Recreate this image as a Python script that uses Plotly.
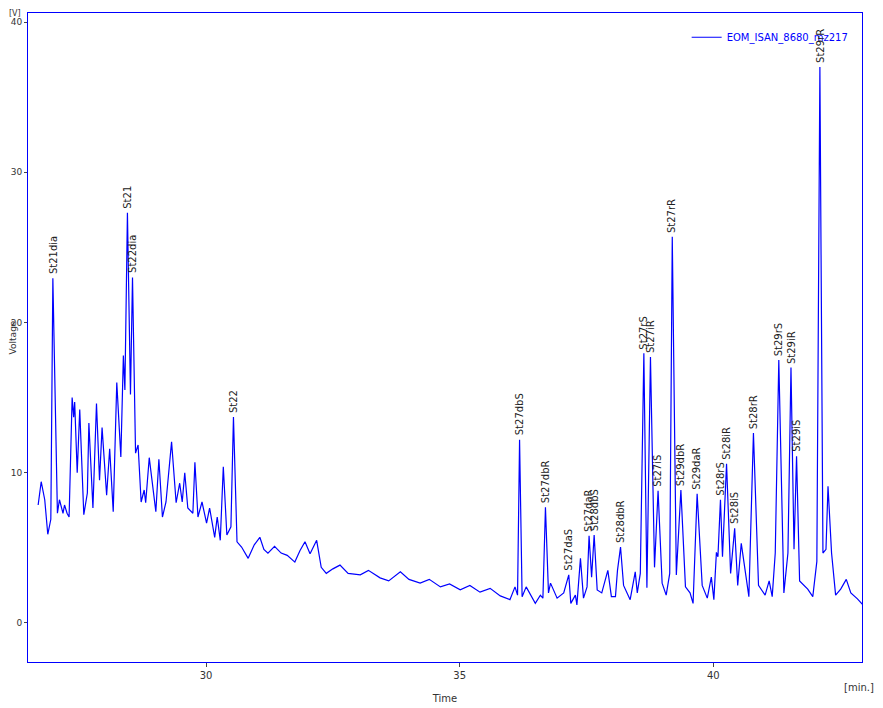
import plotly.graph_objects as go

# retention time [min] and detector voltage [V]
time = [26.69, 26.75, 26.82, 26.88, 26.94, 26.98, 27.07, 27.11, 27.18, 27.21, 27.26, 27.30,
        27.36, 27.39, 27.41, 27.46, 27.51, 27.59, 27.66, 27.69, 27.77, 27.84, 27.90, 27.95,
        28.04, 28.10, 28.17, 28.24, 28.32, 28.37, 28.40, 28.45, 28.51, 28.55, 28.61, 28.66,
        28.72, 28.78, 28.81, 28.88, 29.01, 29.07, 29.14, 29.21, 29.32, 29.41, 29.48, 29.53,
        29.58, 29.64, 29.74, 29.78, 29.84, 29.92, 30.01, 30.07, 30.17, 30.22, 30.28, 30.34,
        30.41, 30.49, 30.54, 30.61, 30.70, 30.83, 30.95, 31.06, 31.14, 31.22, 31.35, 31.48,
        31.60, 31.75, 31.85, 31.95, 32.05, 32.18, 32.27, 32.37, 32.50, 32.64, 32.80, 33.04,
        33.20, 33.43, 33.60, 33.83, 34.00, 34.22, 34.40, 34.62, 34.80, 35.01, 35.20, 35.40,
        35.60, 35.80, 35.99, 36.09, 36.14, 36.18, 36.23, 36.31, 36.49, 36.59, 36.64, 36.69,
        36.75, 36.79, 36.92, 37.05, 37.15, 37.19, 37.28, 37.31, 37.38, 37.44, 37.51, 37.55,
        37.60, 37.65, 37.71, 37.80, 37.92, 37.99, 38.07, 38.11, 38.17, 38.23, 38.36, 38.46,
        38.50, 38.56, 38.63, 38.69, 38.76, 38.84, 38.91, 38.99, 39.07, 39.14, 39.19, 39.27,
        39.36, 39.45, 39.54, 39.60, 39.68, 39.78, 39.88, 39.96, 40.01, 40.06, 40.09, 40.14,
        40.18, 40.26, 40.34, 40.42, 40.48, 40.55, 40.70, 40.79, 40.89, 41.02, 41.10, 41.16,
        41.22, 41.29, 41.39, 41.47, 41.53, 41.59, 41.64, 41.70, 41.86, 41.96, 42.04, 42.10,
        42.16, 42.22, 42.26, 42.33, 42.41, 42.51, 42.62, 42.71, 42.84, 42.95]
voltage = [7.85, 9.4, 8.2, 5.9, 6.9, 22.95, 7.3, 8.2, 7.3, 7.85, 7.3, 7.05,
           15.0, 13.7, 14.7, 10.0, 14.2, 7.2, 8.65, 13.3, 7.65, 14.6, 9.5, 13.0,
           8.5, 11.6, 7.4, 16.0, 11.05, 17.8, 15.5, 27.3, 15.2, 23.0, 11.3, 11.85,
           8.05, 8.85, 8.0, 11.0, 7.4, 10.9, 7.05, 8.05, 12.05, 8.0, 9.3, 8.05,
           10.0, 7.65, 7.3, 10.7, 7.05, 8.05, 6.65, 7.65, 5.7, 7.05, 5.5, 10.4,
           5.85, 6.4, 13.7, 5.4, 5.05, 4.3, 5.2, 5.7, 4.9, 4.65, 5.1, 4.65,
           4.5, 4.05, 4.8, 5.4, 4.6, 5.5, 3.7, 3.3, 3.6, 3.85, 3.3, 3.2,
           3.5, 3.0, 2.8, 3.4, 2.9, 2.65, 2.9, 2.4, 2.6, 2.2, 2.5, 2.05,
           2.3, 1.8, 1.55, 2.4, 1.85, 12.2, 1.75, 2.4, 1.3, 1.85, 1.65, 7.7,
           2.0, 2.65, 1.65, 2.0, 3.2, 1.3, 1.85, 1.2, 4.3, 1.65, 2.4, 5.8,
           3.05, 5.85, 2.2, 2.0, 3.5, 1.75, 1.75, 3.5, 5.05, 2.5, 1.55, 3.4,
           2.0, 3.3, 17.95, 2.35, 17.7, 3.7, 8.8, 2.65, 1.85, 3.3, 25.7, 3.2,
           8.85, 2.4, 2.0, 1.3, 8.6, 2.5, 1.65, 3.05, 1.55, 4.7, 4.4, 8.2,
           4.4, 10.6, 3.3, 6.3, 2.5, 5.3, 1.75, 12.65, 2.5, 1.85, 2.8, 1.75,
           4.65, 17.5, 2.0, 4.65, 17.0, 4.9, 11.1, 2.8, 2.25, 1.75, 4.1, 37.0,
           4.65, 4.9, 9.1, 4.65, 1.85, 2.25, 2.9, 2.0, 1.6, 1.2]

peak_names = ["St21dia", "St21", "St22dia", "St22", "St27dbS", "St27dbR", "St27daS",
              "St27daR", "St28dbS", "St28dbR", "St27rS", "St27iR", "St27iS", "St27rR",
              "St29dbR", "St29daR", "St28rS", "St28iR", "St28iS", "St28rR", "St29rS",
              "St29iR", "St29iS", "St29rR"]
peak_times = [26.98, 28.45, 28.55, 30.54, 36.18, 36.69, 37.15, 37.55, 37.65, 38.17,
              38.63, 38.76, 38.91, 39.19, 39.36, 39.68, 40.14, 40.26, 40.42, 40.79,
              41.29, 41.53, 41.64, 42.10]

fig = go.Figure()
fig.add_trace(go.Scatter(x=time, y=voltage, mode="lines", name="EOM_ISAN_8680_mz217",
                         line=dict(color="#0000ff", width=1.2)))

for name, t in zip(peak_names, peak_times):
    v = voltage[time.index(t)]
    fig.add_annotation(x=t, y=v, text=name, textangle=-90, showarrow=False,
                       xanchor="center", yanchor="bottom", yshift=2,
                       font=dict(size=10, color="#202020"))

fig.add_annotation(x=0, y=1, xref="paper", yref="paper", text="[V]", showarrow=False,
                   xanchor="left", yanchor="top", xshift=-20, yshift=5, borderpad=0,
                   font=dict(size=8, color="#333333"))
fig.add_annotation(x=1, y=0, xref="paper", yref="paper", text="[min.]", showarrow=False,
                   xanchor="right", yanchor="top", xshift=14, yshift=-18,
                   font=dict(size=10, color="#333333"))

fig.update_layout(
    width=883, height=708,
    margin=dict(l=20, r=29, t=5, b=54),
    plot_bgcolor="white", paper_bgcolor="white",
    font=dict(family="DejaVu Sans", size=10, color="#333333"),
    showlegend=True,
    legend=dict(x=0.99, y=0.985, xanchor="right", yanchor="top", bgcolor="rgba(0,0,0,0)",
                font=dict(color="#0000ff", size=10)),
    xaxis=dict(range=[26.49, 42.93], tickvals=[30, 35, 40], showgrid=False, zeroline=False,
               ticks="outside", ticklen=4, showline=True, linecolor="#0000ff", mirror=True,
               automargin=False,
               title=dict(text="Time", standoff=14, font=dict(size=10))),
    yaxis=dict(range=[-2.6, 40.6], tickvals=[0, 10, 20, 30, 40], showgrid=False,
               zeroline=False, ticks="outside", ticklen=3, showline=True,
               linecolor="#0000ff", mirror=True, automargin=False,
               tickfont=dict(size=9),
               title=dict(text="Voltage", standoff=0, font=dict(size=9))),
)

fig.write_html("out.html")
